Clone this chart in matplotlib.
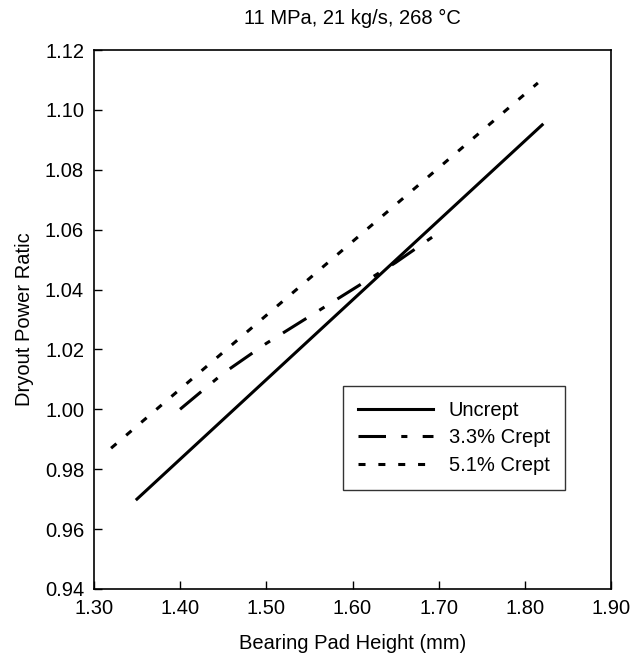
import matplotlib
matplotlib.use('Agg')
import matplotlib.pyplot as plt

plt.rcParams['font.family'] = ['Liberation Sans', 'DejaVu Sans']

# Uncrept
x_uncrept = [1.35, 1.82]
y_uncrept = [0.970, 1.095]

# 3.3% crept
x_crept33 = [1.40, 1.45, 1.50, 1.55, 1.60, 1.65, 1.70]
y_crept33 = [1.000, 1.012, 1.022, 1.031, 1.040, 1.049, 1.059]

# 5.1% crept
x_crept51 = [1.32, 1.815]
y_crept51 = [0.987, 1.109]

xticks = [1.30, 1.40, 1.50, 1.60, 1.70, 1.80, 1.90]
yticks = [0.94, 0.96, 0.98, 1.00, 1.02, 1.04, 1.06, 1.08, 1.10, 1.12]

fs = 14.5

fig = plt.figure(figsize=(6.34, 6.58), dpi=100)
ax = fig.add_axes([0.148, 0.105, 0.816, 0.819])

ax.plot(x_uncrept, y_uncrept, color='black', lw=2.2, label='Uncrept')
ax.plot(x_crept33, y_crept33, color='black', lw=2.2, dashes=(9, 5, 2, 5), label='3.3% Crept')
ax.plot(x_crept51, y_crept51, color='black', lw=2.2, dashes=(2.3, 4.2), label='5.1% Crept')

ax.set_xlim(1.30, 1.90)
ax.set_ylim(0.94, 1.12)
ax.set_xticks(xticks)
ax.set_xticklabels([f'{v:.2f}' for v in xticks])
ax.set_yticks(yticks)
ax.set_yticklabels([f'{v:.2f}' for v in yticks])
ax.tick_params(direction='in', length=6, width=1, labelsize=fs, pad=7)
for s in ax.spines.values():
    s.set_linewidth(1.2)

ax.set_xlabel('Bearing Pad Height (mm)', fontsize=fs, labelpad=12)
ax.set_ylabel('Dryout Power Ratic', fontsize=fs, labelpad=8)
ax.set_title('11 MPa, 21 kg/s, 268 °C', fontsize=fs, pad=19)

leg = ax.legend(loc='upper left', bbox_to_anchor=(0.482, 0.377),
                fontsize=fs, frameon=True, fancybox=False,
                edgecolor='black', handlelength=3.7, borderpad=0.75,
                labelspacing=0.42, handletextpad=0.8, borderaxespad=0)
leg.get_frame().set_linewidth(1.0)

fig.savefig('out.png', dpi=100)
